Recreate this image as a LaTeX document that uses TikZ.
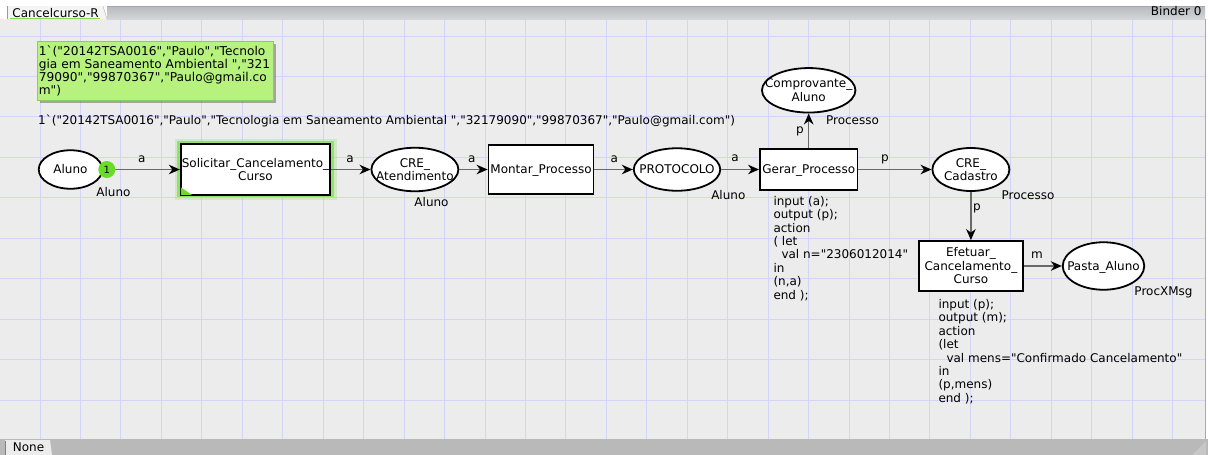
\documentclass[tikz,border=0pt]{standalone}
\usepackage{fontspec}
\newfontfamily\cpnfont{DejaVu Sans}
\usetikzlibrary{arrows.meta,shapes.geometric,shadows}
\definecolor{canvasc}{RGB}{236,236,236}
\definecolor{gridc}{RGB}{212,212,248}
\definecolor{arcc}{RGB}{105,105,105}
\definecolor{tokg}{RGB}{105,220,40}
\definecolor{markg}{RGB}{182,242,125}
\definecolor{markb}{RGB}{140,205,95}
\definecolor{glowc}{RGB}{130,222,80}
\definecolor{barc}{RGB}{185,185,185}
\definecolor{tabbarA}{RGB}{182,185,190}
\definecolor{tabbarB}{RGB}{212,213,216}
\definecolor{edgeblue}{RGB}{150,170,205}
\newcommand\cpntext[1]{\makebox[0pt]{\raisebox{0pt}[\dimexpr\height+3.4pt\relax][\depth]{\begin{tabular}{@{}c@{}}#1\end{tabular}}}}
\newcommand\mline[1]{\makebox[233pt][l]{#1}}
\begin{document}
\begin{tikzpicture}[x=1pt,y=-1pt,
  every node/.style={font=\cpnfont\fontsize{12}{13.4}\selectfont, text=black},
  place/.style 2 args={ellipse, draw=black, line width=1.8pt, fill=white, inner sep=0pt, minimum width=#1, minimum height=#2},
  trans/.style 2 args={rectangle, draw=black, line width=1.8pt, fill=white, inner sep=0pt, minimum width=#1, minimum height=#2},
  arc/.style={draw=arcc, line width=1.4pt, -{Stealth[length=11pt,width=9.5pt,inset=3.5pt,color=black]}},
  lab/.style={inner sep=0pt},
  code/.style={inner sep=0pt, align=left, anchor=north west},
  tokn/.style={circle, fill=tokg, inner sep=0pt, minimum size=17pt, font=\cpnfont\fontsize{10}{12}\selectfont},
  markbox/.style={rectangle, fill=markg, draw=markb, line width=0.6pt, inner xsep=1.5pt, inner ysep=4pt, align=left, anchor=north west, font=\cpnfont\fontsize{12.2}{13.3}\selectfont, drop shadow={shadow xshift=2.5pt, shadow yshift=-2.5pt, fill=black, opacity=0.3}}
]
\useasboundingbox (0,0) rectangle (1208,455);
\fill[white] (0,0) rectangle (1208,455);
% canvas and grid
\fill[canvasc] (0,19) rectangle (1205,439);
\foreach \i in {0,...,28} \draw[gridc, line width=0.9pt] ({40+40.45*\i},19) -- ({40+40.45*\i},439);
\foreach \j in {0,...,9} \draw[gridc, line width=0.9pt] (0,{36+40.45*\j}) -- (1205,{36+40.45*\j});
% top tab bar
\shade[top color=tabbarA, bottom color=tabbarB] (107,6) rectangle (1205,19);
\draw[gray!70] (107,6.5) -- (1205,6.5);
\fill[canvasc!60!white] (7,19) -- (7,6) -- (103,6) -- (107,19) -- cycle;
\draw[gray!80] (7,19) -- (7,6);
\draw[gray!60] (103,6) -- (107,19);
\node[lab, anchor=base west] (tabname) at (12.3,17) {Cancelcurso-R};
\draw[glowc, line width=1pt] (10,18.5) -- (100,18.5);
\node[lab, anchor=base east] (binder) at (1201.7,15.5) {Binder 0};
% bottom bar
\fill[barc] (0,439) rectangle (1208,455);
\fill[canvasc] (5,440) -- (50,440) -- (52,455) -- (5,455) -- cycle;
\draw[gray] (5,455) -- (5,441);
\node[lab, anchor=base west] (nonelab) at (12.7,451.7) {None};
\draw[edgeblue, line width=1.5pt] (1205.5,19) -- (1205.5,439);
\fill[barc!80!white] (1206,441) -- (1206,455) -- (1192,455) -- cycle;

% marking
\node[markbox] (mark) at (37,41) {\mline{1`("20142TSA0016","Paulo","Tecnolo}\\\mline{gia em Saneamento Ambiental ","321}\\\mline{79090","99870367","Paulo@gmail.co}\\\mline{m")}};
\node[lab, anchor=base west] (marktext) at (38,124.5) {1`("20142TSA0016","Paulo","Tecnologia em Saneamento Ambiental ","32179090","99870367","Paulo@gmail.com")};

% glow of enabled transition
\draw[glowc, line width=5pt, opacity=0.25] (177,141) rectangle (334,197);
\draw[glowc, line width=2.5pt, opacity=0.75] (178.6,142.6) rectangle (332.4,195.4);

% places
\node[place={63.5}{38.5}] (aluno) at (70.5,169.5) {\cpntext{Aluno}};
\node[place={87}{43.5}] (creat) at (414.9,169.5) {\cpntext{CRE\_\\Atendimento}};
\node[place={86.5}{42.5}] (proto) at (677,169.5) {\cpntext{PROTOCOLO}};
\node[place={93.5}{44.5}] (comp) at (808.7,90.3) {\cpntext{Comprovante\_\\Aluno}};
\node[place={77}{43}] (crecad) at (970.9,169.5) {\cpntext{CRE\_\\Cadastro}};
\node[place={81.5}{47.5}] (pasta) at (1103.5,266) {\cpntext{Pasta\_Aluno}};

% transitions
\node[trans={149.5}{50.5}] (solic) at (255.5,169.5) {\cpntext{Solicitar\_Cancelamento\_\\Curso}};
\fill[tokg] ([shift={(0.9,-0.9)}]solic.south west) -- ++(11,0) -- ++(-11,-7.5) -- cycle;
\node[trans={105}{48.5}] (montar) at (541,169.5) {\cpntext{Montar\_Processo}};
\node[trans={97.5}{41}] (gerar) at (808.7,169.5) {\cpntext{Gerar\_Processo}};
\node[trans={103.5}{50}] (efet) at (970.9,266) {\cpntext{Efetuar\_\\Cancelamento\_\\Curso}};

% arcs
\draw[arc] (aluno) -- (solic);
\draw[arc] (solic) -- (creat);
\draw[arc] (creat) -- (montar);
\draw[arc] (montar) -- (proto);
\draw[arc] (proto) -- (gerar);
\draw[arc] (gerar) -- (comp);
\draw[arc] (gerar) -- (crecad);
\draw[arc] (crecad) -- (efet);
\draw[arc] (efet) -- (pasta);

% token
\node[tokn] (tok) at (106.8,169.5) {1};

% arc inscriptions
\node[lab] (ia1) at (141.7,159.3) {a};
\node[lab] (ia2) at (350,159.3) {a};
\node[lab] (ia3) at (471.7,159.3) {a};
\node[lab] (ia4) at (614.3,159.3) {a};
\node[lab] (ia5) at (735,158.7) {a};
\node[lab] (ip1) at (800,131.5) {p};
\node[lab] (ip2) at (885,159.5) {p};
\node[lab] (ip3) at (977,208.5) {p};
\node[lab] (im1) at (1037,255) {m};

% colour sets
\node[lab] (cs1) at (113.5,191.7) {Aluno};
\node[lab] (cs2) at (431.5,201.7) {Aluno};
\node[lab] (cs3) at (728.3,195) {Aluno};
\node[lab] (cs4) at (852.5,120) {Processo};
\node[lab] (cs5) at (1028,195.3) {Processo};
\node[lab] (cs6) at (1163.5,292.5) {ProcXMsg};

% code segments
\node[code] (gcode) at (773.3,196) {input (a);\\output (p);\\action\\( let\\\hspace*{8pt}val n="2306012014"\\in\\(n,a)\\end );};
\node[code] (ecode) at (938.3,299.2) {input (p);\\output (m);\\action\\(let\\\hspace*{8pt}val mens="Confirmado Cancelamento"\\in\\(p,mens)\\end );};
\end{tikzpicture}
\end{document}
